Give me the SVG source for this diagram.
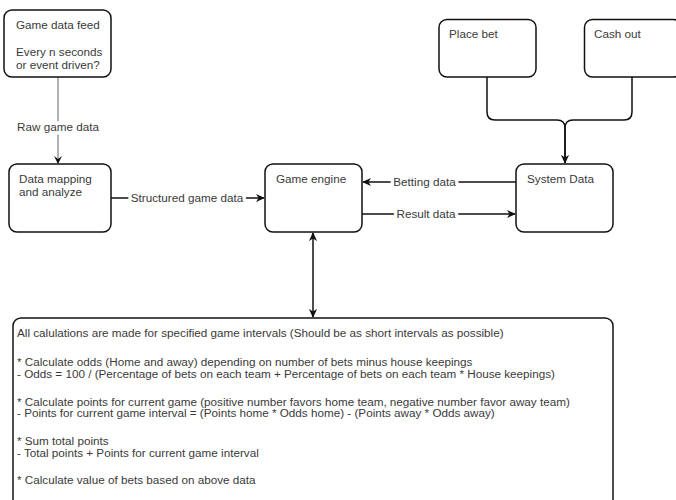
<svg xmlns="http://www.w3.org/2000/svg" width="676" height="500" viewBox="0 0 676 500">
<style>
.box{fill:#fff;stroke:#111;stroke-width:1.5}
.t{font-family:"Liberation Sans",Arial,sans-serif;font-size:11.7px;fill:#3a3a3a}
.lbl{font-family:"Liberation Sans",Arial,sans-serif;font-size:11.7px;fill:#3a3a3a;text-anchor:middle;paint-order:stroke;stroke:#fff;stroke-width:7px;stroke-linejoin:round}
.c{fill:none;stroke:#111;stroke-width:1.5}
</style>
<defs>
<marker id="ah" viewBox="0 0 10 10" refX="9" refY="5" markerWidth="9" markerHeight="9" markerUnits="userSpaceOnUse" orient="auto-start-reverse">
<path d="M0,0.5 L10,5 L0,9.5 L3,5 z" fill="#111"/>
</marker>
</defs>
<rect width="676" height="500" fill="#fff"/>
<g id="connectors">
<path class="c" d="M58,77 V163" style="stroke:#999"/>
<path d="M54,156 L58,164 L62,156 L58,159 z" fill="#111"/>
<path class="c" d="M111,198 H264" marker-end="url(#ah)"/>
<path class="c" d="M516,182 H363" marker-end="url(#ah)"/>
<path class="c" d="M362,214 H515" marker-end="url(#ah)"/>
<path class="c" d="M313,233 V317" marker-start="url(#ah)" marker-end="url(#ah)"/>
<path class="c" d="M487,77 V112 Q487,120 495,120 H557 Q565,120 565,128 V163" marker-end="url(#ah)"/>
<path class="c" d="M632,77 V112 Q632,120 624,120 H573 Q565,120 565,128 V163"/>
<text class="lbl" x="58" y="131">Raw game data</text>
<text class="lbl" x="187" y="202">Structured game data</text>
<text class="lbl" x="424.5" y="186">Betting data</text>
<text class="lbl" x="426" y="218">Result data</text>
</g>
<g id="game-data-feed">
<rect class="box" x="4" y="10" width="107" height="67" rx="8"/>
<text class="t" x="16" y="29">Game data feed</text>
<text class="t" x="16" y="56">Every n seconds</text>
<text class="t" x="16" y="68.5">or event driven?</text>
</g>
<g id="data-mapping">
<rect class="box" x="9" y="164" width="102" height="68" rx="8"/>
<text class="t" x="19" y="183">Data mapping</text>
<text class="t" x="19" y="196">and analyze</text>
</g>
<g id="game-engine">
<rect class="box" x="265" y="164" width="97" height="68" rx="8"/>
<text class="t" x="276" y="183">Game engine</text>
</g>
<g id="system-data">
<rect class="box" x="516" y="164" width="97" height="68" rx="8"/>
<text class="t" x="527" y="183">System Data</text>
</g>
<g id="place-bet">
<rect class="box" x="439" y="19.5" width="97" height="57.5" rx="8"/>
<text class="t" x="449" y="38">Place bet</text>
</g>
<g id="cash-out">
<rect class="box" x="584.5" y="19.5" width="97" height="57.5" rx="8"/>
<text class="t" x="594" y="38">Cash out</text>
</g>
<g id="calculations">
<rect class="box" x="13" y="318" width="600" height="200" rx="8"/>
<text class="t" x="17" y="337">All calulations are made for specified game intervals (Should be as short intervals as possible)</text>
<text class="t" x="17" y="365.5">* Calculate odds (Home and away) depending on number of bets minus house keepings</text>
<text class="t" x="17" y="378">- Odds = 100 / (Percentage of bets on each team + Percentage of bets on each team * House keepings)</text>
<text class="t" x="17" y="405.5">* Calculate points for current game (positive number favors home team, negative number favor away team)</text>
<text class="t" x="17" y="417">- Points for current game interval = (Points home * Odds home) - (Points away * Odds away)</text>
<text class="t" x="17" y="445">* Sum total points</text>
<text class="t" x="17" y="457">- Total points + Points for current game interval</text>
<text class="t" x="17" y="484">* Calculate value of bets based on above data</text>
</g>
</svg>
